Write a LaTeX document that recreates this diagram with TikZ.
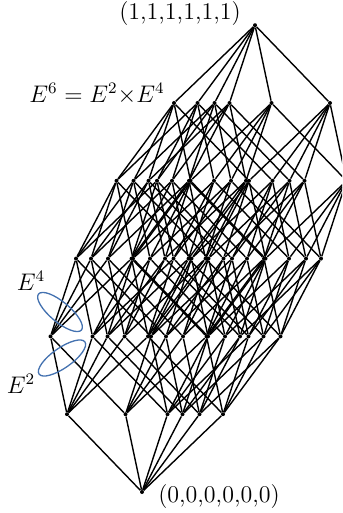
\documentclass[tikz,border=0pt]{standalone}
\usepackage{amsmath,amssymb}
\usepackage{tikz}
\definecolor{ringblue}{RGB}{68,114,176}
\tikzset{
  vtx/.style={circle,fill=black,inner sep=0pt,minimum size=2pt},
  edge/.style={line width=0.7pt},
  ring/.style={draw=ringblue,line width=0.65pt}
}
\begin{document}
\begin{tikzpicture}[x=0.5pt,y=-0.5pt,font=\fontsize{12}{14}\selectfont]
  \useasboundingbox (0,0) rectangle (342,513);
  \clip (0,0) rectangle (342,513);
  \foreach \n in {0,...,63}{
    \pgfmathsetmacro{\px}{142 - 75*mod(\n,2) - 16.5*mod(floor(\n/2),2) + 25.5*mod(floor(\n/4),2) + 40.5*mod(floor(\n/8),2) + 57.5*mod(floor(\n/16),2) + 81*mod(floor(\n/32),2)}
    \pgfmathsetmacro{\py}{492 - 77.8*(mod(\n,2) + mod(floor(\n/2),2) + mod(floor(\n/4),2) + mod(floor(\n/8),2) + mod(floor(\n/16),2) + mod(floor(\n/32),2))}
    \node[vtx] (v\n) at (\px,\py) {};
  }
  \foreach \n in {0,...,63}
    \foreach \i in {0,...,5}{
      \pgfmathtruncatemacro{\b}{mod(floor(\n/2^\i),2)}
      \ifnum\b=0
        \pgfmathtruncatemacro{\m}{\n+2^\i}
        \draw[edge] (v\n) -- (v\m);
      \fi
    }
  \node (top) at (180,14) {(1,1,1,1,1,1)};
  \node (bot) at (219,497) {(0,0,0,0,0,0)};
  \node (prod) at (97,94) {$E^6 = E^2{\times}E^4$};
  \draw[ring] (60,312) ellipse [x radius=28, y radius=10, rotate=-40];
  \draw[ring] (62,358) ellipse [x radius=28, y radius=10, rotate=35];
  \node (four) at (31,281) {$E^4$};
  \node (two) at (21,384) {$E^2$};
\end{tikzpicture}
\end{document}
